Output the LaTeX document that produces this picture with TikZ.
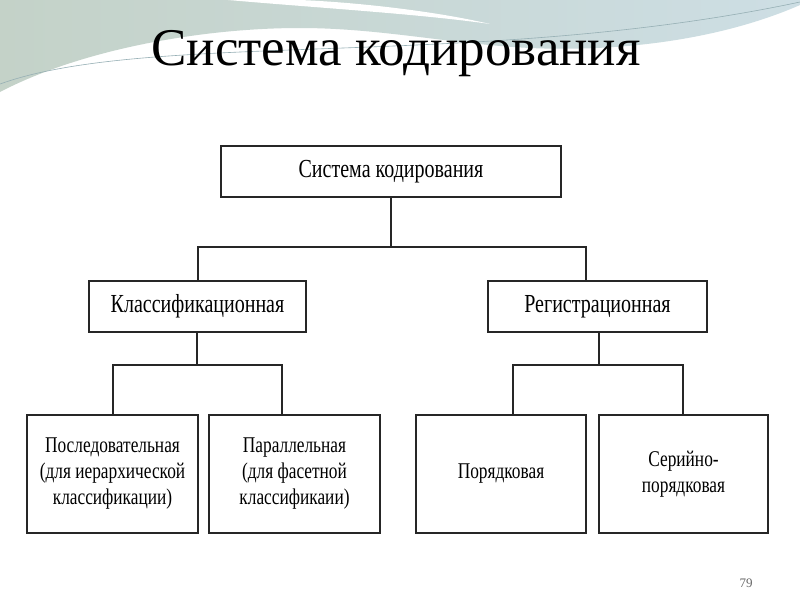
\documentclass[tikz,border=0pt]{standalone}
\usepackage{fontspec}
\setmainfont{Liberation Serif}
\newfontfamily\boxfont[FakeStretch=0.77]{Liberation Serif}
\usetikzlibrary{calc}
\definecolor{waveA}{RGB}{196,210,200}
\definecolor{waveB}{RGB}{205,222,228}
\definecolor{waveline}{RGB}{150,175,180}
\tikzset{
  box/.style={draw=black!85, line width=1.4pt, rectangle, inner sep=0pt, align=center,
    font=\boxfont\fontsize{26}{28}\selectfont},
  smallbox/.style={box, font=\boxfont\fontsize{22.5}{26}\selectfont},
  conn/.style={draw=black!85, line width=1.3pt},
}
\begin{document}
\begin{tikzpicture}[x=1pt,y=-1pt]
\useasboundingbox (0,0) rectangle (800,600);
\fill[white] (0,0) rectangle (800,600);
% background wave
\shade[left color=waveA, right color=waveB]
  (0,0) -- (800,0) -- (800,5) .. controls (720,40) and (620,52) .. (530,48)
  .. controls (450,44) and (380,28) .. (300,28)
  .. controls (200,28) and (80,50) .. (0,92) -- cycle;
\fill[white] (228,0) .. controls (320,8) and (420,14) .. (490,24)
  .. controls (430,10) and (350,2) .. (300,0) -- cycle;
\draw[waveline, line width=0.6pt] (0,84) .. controls (150,30) and (480,70) .. (800,2);
% title
\node (title) at (396,54) {\fontsize{53}{60}\selectfont Система кодирования};
% boxes
\node[box, minimum width=340pt, minimum height=51pt] (top) at (391,171.5) {Система кодирования};
\node[box, minimum width=217pt, minimum height=51pt] (cls) at (197.5,306.5) {Классификационная};
\node[box, minimum width=219pt, minimum height=51pt] (reg) at (597.5,306.5) {Регистрационная};
\node[smallbox, minimum width=171pt, minimum height=118pt] (b1) at (112.5,474) {Последовательная\\(для иерархической\\классификации)};
\node[smallbox, minimum width=171pt, minimum height=118pt] (b2) at (294.5,474) {Параллельная\\(для фасетной\\классификаии)};
\node[smallbox, minimum width=170pt, minimum height=118pt] (b3) at (501,474) {Порядковая};
\node[smallbox, minimum width=169pt, minimum height=118pt] (b4) at (683.5,474) {Серийно-\\порядковая};
% junctions
\coordinate (j0) at (391,247);
\coordinate (jL) at (198,247);
\coordinate (jR) at (586,247);
\coordinate (k0) at (197,365);
\coordinate (k1) at (113,365);
\coordinate (k2) at (282,365);
\coordinate (m0) at (599,365);
\coordinate (m1) at (513,365);
\coordinate (m2) at (683,365);
% connectors
\draw[conn] (top.south) -- (j0);
\draw[conn] (jL |- cls.north) -- (jL) -- (jR) -- (jR |- reg.north);
\draw[conn] (k0 |- cls.south) -- (k0);
\draw[conn] (k1 |- b1.north) -- (k1) -- (k2) -- (k2 |- b2.north);
\draw[conn] (m0 |- reg.south) -- (m0);
\draw[conn] (m1 |- b3.north) -- (m1) -- (m2) -- (m2 |- b4.north);
% page number
\node[text=black!60, font=\fontsize{13}{15}\selectfont] (pg) at (746,583) {79};
\end{tikzpicture}
\end{document}
